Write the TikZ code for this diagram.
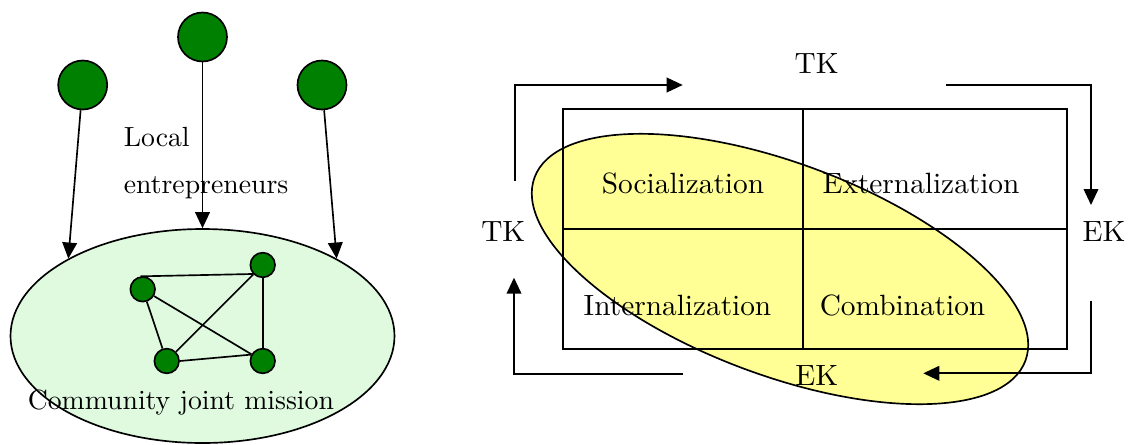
\documentclass[tikz,border=0pt]{standalone}
\usepackage{fontspec}
\setmainfont{lmroman10-regular}[Extension=.otf]
\usetikzlibrary{shapes.geometric,arrows.meta}
\definecolor{leafgreen}{RGB}{0,128,0}
\definecolor{paleg}{RGB}{224,250,224}
\definecolor{paley}{RGB}{255,255,150}
\begin{document}
\begin{tikzpicture}[x=0.75pt,y=-0.75pt,line width=1.25pt,
  arr/.style={-{Triangle[length=12pt,width=11pt]}},
  actor/.style={circle,draw,fill=leafgreen,minimum size=36.75pt,inner sep=0pt},
  member/.style={circle,draw,fill=leafgreen,minimum size=18.5pt,inner sep=0pt},
  lbl/.style={font=\fontsize{20.8}{25}\selectfont,anchor=base,inner sep=0pt},
  cell/.style={font=\fontsize{22}{26}\selectfont,anchor=base,inner sep=0pt}]
\useasboundingbox (0,0) rectangle (1129,444);

% ---------- community of local entrepreneurs ----------
\node[ellipse,draw,fill=paleg,minimum width=288pt,minimum height=160.5pt,inner sep=0pt]
  (mission) at (202.5,336) {};
\node[actor] (eA) at (82.7,85) {};
\node[actor] (eB) at (202.5,37) {};
\node[actor] (eC) at (322,85) {};
\draw[arr] (eA) -- (mission.150);
\draw[arr] (eB) -- (mission.north);
\draw[arr] (eC) -- (mission.30);
\node[lbl,anchor=base west] (local) at (123,146) {Local};
\node[lbl,anchor=base west] (entre) at (123,193) {entrepreneurs};

\node[member] (m1) at (142.7,289.3) {};
\node[member] (m2) at (262.7,265) {};
\node[member] (m3) at (166.7,361) {};
\node[member] (m4) at (262.7,361) {};
\draw (m1.100) -- (m2.223);
\draw (m1) -- (m3);
\draw (m1) -- (m4);
\draw (m3) -- (m2);
\draw (m3.east) -- (m4.151);
\draw (m2) -- (m4);
\node[lbl,anchor=base west] (joint) at (27,409) {Community joint mission};

% ---------- knowledge conversion grid ----------
\fill[paley,rotate around={-20.5:(780,269)}] (780,269) ellipse [x radius=262,y radius=106];
\coordinate (g1) at (562.7,109.3);
\coordinate (g2) at (1067.3,349.3);
\draw (g1) rectangle (g2);
\draw (803.3,109.3) -- (803.3,349.3);
\draw (562.7,229.3) -- (1067.3,229.3);

\node[cell] (soc) at (683,193) {Socialization};
\node[cell] (ext) at (921,193) {Externalization};
\node[cell] (int) at (677.5,315) {Internalization};
\node[cell] (com) at (902.5,315) {Combination};

\node[cell] (tkT) at (816.7,73) {TK};
\node[cell] (tkL) at (503.3,241.7) {TK};
\node[cell] (ekR) at (1104,241.7) {EK};
\node[cell] (ekB) at (816.7,385) {EK};

\coordinate (a1s) at (515,180.7);
\coordinate (a1m) at (515,85);
\coordinate (a1e) at (682.7,85);
\coordinate (a2s) at (946,85);
\coordinate (a2m) at (1091,85);
\coordinate (a2e) at (1091,205);
\coordinate (a3s) at (1091,300.7);
\coordinate (a3m) at (1091,373.3);
\coordinate (a3e) at (923.3,373.3);
\coordinate (a4s) at (683.3,374);
\coordinate (a4m) at (514,374);
\coordinate (a4e) at (514,277.7);
\draw[arr] (a1s) -- (a1m) -- (a1e);
\draw[arr] (a2s) -- (a2m) -- (a2e);
\draw[arr] (a3s) -- (a3m) -- (a3e);
\draw[arr] (a4s) -- (a4m) -- (a4e);

\draw[rotate around={-20.5:(780,269)}] (780,269) ellipse [x radius=262,y radius=106];
\end{tikzpicture}
\end{document}
